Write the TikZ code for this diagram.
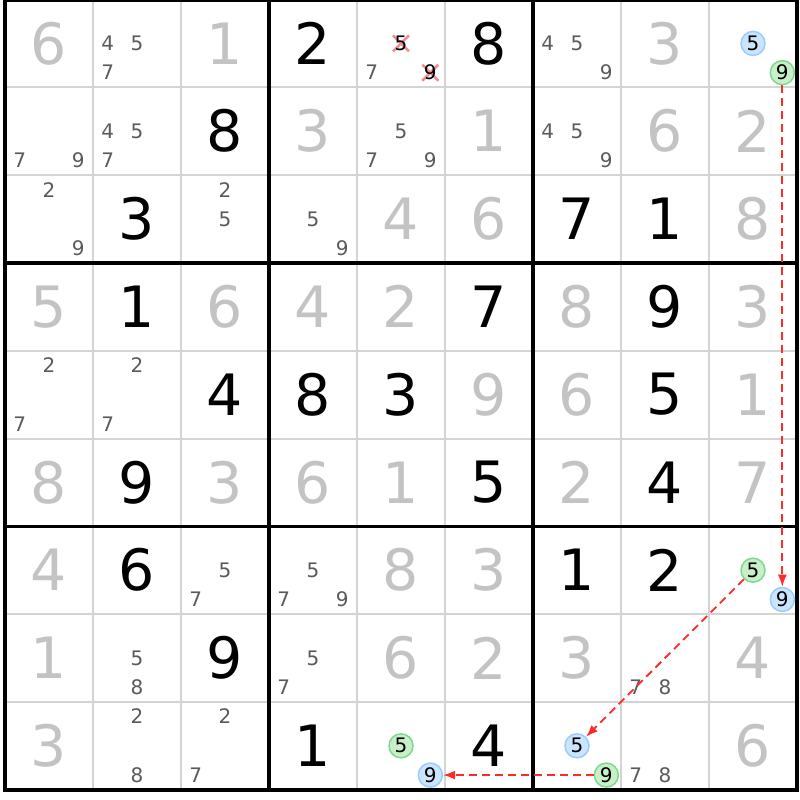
\documentclass[tikz,border=0pt]{standalone}
\usepackage{fontspec}
\setmainfont{DejaVu Sans}
\usetikzlibrary{arrows.meta}
\definecolor{given}{HTML}{000000}
\definecolor{solved}{HTML}{C3C3C3}
\definecolor{cand}{HTML}{5A5A5A}
\definecolor{thinline}{HTML}{D4D4D4}
\definecolor{bfill}{HTML}{CCE5FF}
\definecolor{bline}{HTML}{99CCFF}
\definecolor{gfill}{HTML}{C8F0C8}
\definecolor{gline}{HTML}{80D890}
\definecolor{xred}{HTML}{F28C94}
\definecolor{arr}{HTML}{FF2A2A}
\tikzset{
  bigdigit/.style={inner sep=0pt, anchor=center, font=\fontsize{57}{60}\selectfont},
  canddigit/.style={inner sep=0pt, anchor=center, text=cand, font=\fontsize{20}{22}\selectfont},
  bluecand/.style={circle, draw=bline, fill=bfill, line width=1.5pt, minimum size=24pt, inner sep=0pt, text=black, font=\fontsize{20}{22}\selectfont},
  greencand/.style={circle, draw=gline, fill=gfill, line width=1.5pt, minimum size=24pt, inner sep=0pt, text=black, font=\fontsize{20}{22}\selectfont},
  crosscand/.style={inner sep=0pt, anchor=center, text=black, font=\fontsize{20}{22}\selectfont},
  linkarrow/.style={draw=arr, line width=1.8pt, dash pattern=on 8pt off 5pt, -{Latex[length=12pt,width=9pt]}},
  thingrid/.style={draw=thinline, line width=2pt},
  thickgrid/.style={draw=black, line width=3.5pt},
  xmark/.style={draw=xred, line width=2.5pt}
}
\begin{document}
\begin{tikzpicture}[x=1pt,y=-1pt]
\fill[white] (0,0) rectangle (800,800);
\useasboundingbox (0,0) rectangle (800,800);
% thin grid
\foreach \i in {1,2,4,5,7,8}{
  \draw[thingrid] ({5+88*\i},-0.5) -- ({5+88*\i},789.7);
  \draw[thingrid] (5,{-0.5+87.8*\i}) -- (797,{-0.5+87.8*\i});
}
% thick grid
\foreach \i in {3,6}{
  \draw[thickgrid] ({5+88*\i},-0.5) -- ({5+88*\i},789.7);
  \draw[thickgrid] (5,{-0.5+87.8*\i}) -- (797,{-0.5+87.8*\i});
}
\draw[draw=black, line width=4pt] (5,0.5) rectangle (797,789.7);
% big digits
\foreach \r/\c/\d/\s in {
 0/0/6/solved, 0/2/1/solved, 0/3/2/given, 0/5/8/given, 0/7/3/solved,
 1/2/8/given, 1/3/3/solved, 1/5/1/solved, 1/7/6/solved, 1/8/2/solved,
 2/1/3/given, 2/4/4/solved, 2/5/6/solved, 2/6/7/given, 2/7/1/given, 2/8/8/solved,
 3/0/5/solved, 3/1/1/given, 3/2/6/solved, 3/3/4/solved, 3/4/2/solved, 3/5/7/given, 3/6/8/solved, 3/7/9/given, 3/8/3/solved,
 4/2/4/given, 4/3/8/given, 4/4/3/given, 4/5/9/solved, 4/6/6/solved, 4/7/5/given, 4/8/1/solved,
 5/0/8/solved, 5/1/9/given, 5/2/3/solved, 5/3/6/solved, 5/4/1/solved, 5/5/5/given, 5/6/2/solved, 5/7/4/given, 5/8/7/solved,
 6/0/4/solved, 6/1/6/given, 6/4/8/solved, 6/5/3/solved, 6/6/1/given, 6/7/2/given,
 7/0/1/solved, 7/2/9/given, 7/4/6/solved, 7/5/2/solved, 7/6/3/solved, 7/8/4/solved,
 8/0/3/solved, 8/3/1/given, 8/5/4/given, 8/8/6/solved}{
  \node[bigdigit, text=\s] (d\r\c) at ({5+88*\c+44},{-0.5+87.8*\r+43.9}) {\d};
}
% plain candidates
\foreach \r/\c/\d in {
 0/1/4, 0/1/5, 0/1/7, 0/4/7, 0/6/4, 0/6/5, 0/6/9,
 1/0/7, 1/0/9, 1/1/4, 1/1/5, 1/1/7, 1/4/5, 1/4/7, 1/4/9, 1/6/4, 1/6/5, 1/6/9,
 2/0/2, 2/0/9, 2/2/2, 2/2/5, 2/3/5, 2/3/9,
 4/0/2, 4/0/7, 4/1/2, 4/1/7,
 6/2/5, 6/2/7, 6/3/5, 6/3/7, 6/3/9,
 7/1/5, 7/1/8, 7/3/5, 7/3/7, 7/7/7, 7/7/8,
 8/1/2, 8/1/8, 8/2/2, 8/2/7, 8/7/7, 8/7/8}{
  \pgfmathtruncatemacro\jj{mod(\d-1,3)}
  \pgfmathtruncatemacro\ii{(\d-1)/3}
  \node[canddigit] (c\r\c\d) at ({5+88*\c+29.333*(\jj+0.5)},{-0.5+87.8*\r+29.267*(\ii+0.5)}) {\d};
}
% crossed candidates
\foreach \r/\c/\d in {0/4/5, 0/4/9}{
  \pgfmathtruncatemacro\jj{mod(\d-1,3)}
  \pgfmathtruncatemacro\ii{(\d-1)/3}
  \coordinate (x\r\c\d) at ({5+88*\c+29.333*(\jj+0.5)},{-0.5+87.8*\r+29.267*(\ii+0.5)});
  \draw[xmark] ([shift={(-8,-8)}]x\r\c\d) -- ([shift={(8,8)}]x\r\c\d);
  \draw[xmark] ([shift={(-8,8)}]x\r\c\d) -- ([shift={(8,-8)}]x\r\c\d);
  \node[crosscand] (c\r\c\d) at (x\r\c\d) {\d};
}
% coloured candidates
\foreach \r/\c/\d/\st in {0/8/5/bluecand, 0/8/9/greencand, 6/8/5/greencand, 6/8/9/bluecand,
 8/4/5/greencand, 8/4/9/bluecand, 8/6/5/bluecand, 8/6/9/greencand}{
  \pgfmathtruncatemacro\jj{mod(\d-1,3)}
  \pgfmathtruncatemacro\ii{(\d-1)/3}
  \node[\st] (c\r\c\d) at ({5+88*\c+29.333*(\jj+0.5)},{-0.5+87.8*\r+29.267*(\ii+0.5)}) {\d};
}
% links
\draw[linkarrow] (c089) -- (c689);
\draw[linkarrow] (c685) -- (c865);
\draw[linkarrow] (c869) -- (c849);
\end{tikzpicture}
\end{document}
